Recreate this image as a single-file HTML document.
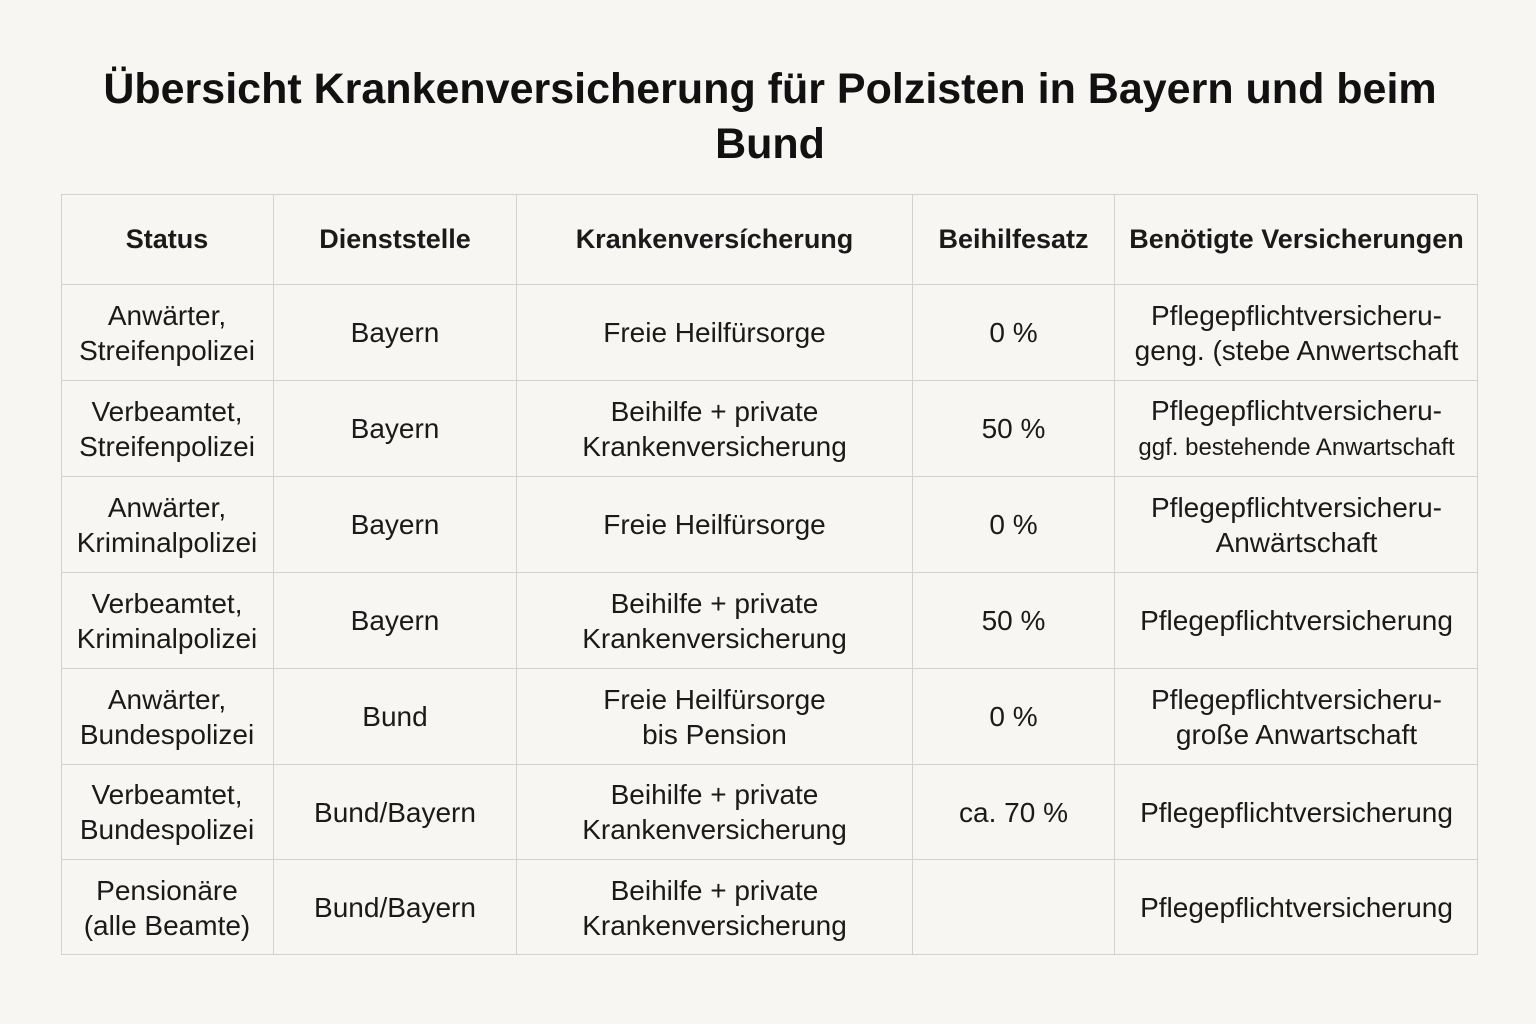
<!DOCTYPE html>
<html><head><meta charset="utf-8"><style>
html,body{margin:0;padding:0;}
body{width:1536px;height:1024px;background:#f7f6f3;font-family:"Liberation Sans",sans-serif;color:#1a1a1a;position:relative;overflow:hidden;}
.title{position:absolute;left:0;width:1540px;top:62px;text-align:center;font-weight:bold;font-size:43px;line-height:55px;color:#111;}
.cell{position:absolute;display:flex;align-items:center;justify-content:center;text-align:center;box-sizing:border-box;font-size:28px;line-height:35px;border-right:1.5px solid #d2d2d2;border-bottom:1.5px solid #d2d2d2;}
.hdr{font-weight:bold;font-size:27px;}
.frame{position:absolute;left:61px;top:194px;width:1417px;height:761px;border:1.5px solid #d2d2d2;box-sizing:border-box;}
</style></head><body>
<div class="title">Übersicht Krankenversicherung für Polzisten in Bayern und beim<br>Bund</div>
<div class="frame"></div>
<div id="tbl"></div>
<script>
const cols=[61,274,517,913,1115,1478];
const rows=[194,285,381,477,573,669,765,860,955];
const headers=["Status","Dienststelle","Krankenversícherung","Beihilfesatz","Benötigte Versicherungen"];
const data=[
["Anwärter,<br>Streifenpolizei","Bayern","Freie Heilfürsorge","0 %","Pflegepflichtversicheru-<br>geng. (stebe Anwertschaft"],
["Verbeamtet,<br>Streifenpolizei","Bayern","Beihilfe + private<br>Krankenversicherung","50 %","Pflegepflichtversicheru-<br><span style='font-size:24px'>ggf. bestehende Anwartschaft</span>"],
["Anwärter,<br>Kriminalpolizei","Bayern","Freie Heilfürsorge","0 %","Pflegepflichtversicheru-<br>Anwärtschaft"],
["Verbeamtet,<br>Kriminalpolizei","Bayern","Beihilfe + private<br>Krankenversicherung","50 %","Pflegepflichtversicherung"],
["Anwärter,<br>Bundespolizei","Bund","Freie Heilfürsorge<br>bis Pension","0 %","Pflegepflichtversicheru-<br>große Anwartschaft"],
["Verbeamtet,<br>Bundespolizei","Bund/Bayern","Beihilfe + private<br>Krankenversicherung","ca. 70 %","Pflegepflichtversicherung"],
["Pensionäre<br>(alle Beamte)","Bund/Bayern","Beihilfe + private<br>Krankenversicherung","","Pflegepflichtversicherung"]
];
const colNames=["status","dienststelle","krankenversicherung","beihilfesatz","versicherungen"];
const tbl=document.getElementById('tbl');
function cell(r,c,html,isHdr){
  const d=document.createElement('div');
  d.className='cell'+(isHdr?' hdr':'');
  d.style.left=cols[c]+'px';d.style.width=(cols[c+1]-cols[c])+'px';
  d.style.top=rows[r]+'px';d.style.height=(rows[r+1]-rows[r])+'px';
  if(c===cols.length-2)d.style.borderRight='none';
  if(r===rows.length-2)d.style.borderBottom='none';
  const inner=document.createElement('div');
  inner.innerHTML=html;
  d.appendChild(inner);
  
  
  tbl.appendChild(d);
}
headers.forEach((h,c)=>cell(0,c,h,true));
data.forEach((row,i)=>row.forEach((v,c)=>cell(i+1,c,v,false)));
</script>
</body></html>
